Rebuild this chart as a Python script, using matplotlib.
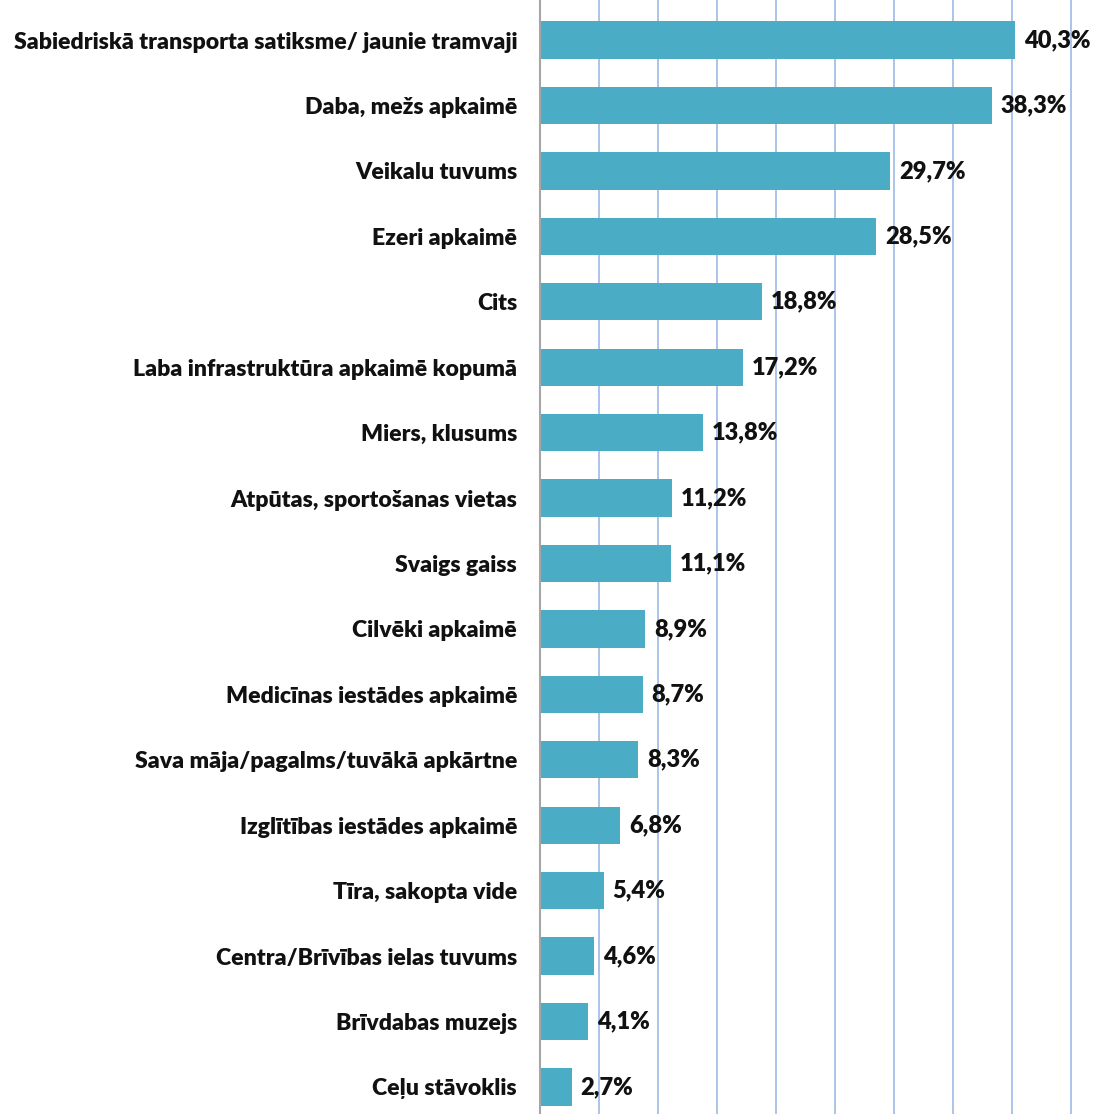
import matplotlib
matplotlib.use("Agg")
import matplotlib.pyplot as plt

categories = [
    "Sabiedriskā transporta satiksme/ jaunie tramvaji",
    "Daba, mežs apkaimē",
    "Veikalu tuvums",
    "Ezeri apkaimē",
    "Cits",
    "Laba infrastruktūra apkaimē kopumā",
    "Miers, klusums",
    "Atpūtas, sportošanas vietas",
    "Svaigs gaiss",
    "Cilvēki apkaimē",
    "Medicīnas iestādes apkaimē",
    "Sava māja/pagalms/tuvākā apkārtne",
    "Izglītības iestādes apkaimē",
    "Tīra, sakopta vide",
    "Centra/Brīvības ielas tuvums",
    "Brīvdabas muzejs",
    "Ceļu stāvoklis",
]
values = [40.3, 38.3, 29.7, 28.5, 18.8, 17.2, 13.8, 11.2, 11.1, 8.9, 8.7, 8.3, 6.8, 5.4, 4.6, 4.1, 2.7]
grid_ticks = [5, 10, 15, 20, 25, 30, 35, 40, 45]

plt.rcParams['font.family'] = ['Lato', 'DejaVu Sans']

fig = plt.figure(figsize=(10.98, 11.14), dpi=100)
ax = fig.add_axes([540/1098, 0, 1 - 540/1098, 1])

y = list(range(len(categories)))
ax.barh(y, values, height=0.57, color="#4BACC6", zorder=2)
ax.set_xlim(0, 47.3)
ax.set_ylim(16 + 27/65.4, -40/65.4)

ax.set_xticks(grid_ticks)
ax.xaxis.grid(True, color="#9DB9E8", linewidth=1.2, zorder=0)
ax.tick_params(axis='x', length=0, labelbottom=False)
ax.set_yticks(y)
ax.set_yticklabels(categories, fontsize=16.6, fontweight='heavy', color="#111111")
ax.tick_params(axis='y', length=0, pad=16.5)

for s in ['top', 'right', 'bottom']:
    ax.spines[s].set_visible(False)
ax.spines['left'].set_color("#a6a6a6")
ax.spines['left'].set_linewidth(1.5)

for yi, v in zip(y, values):
    ax.text(v + 0.75, yi, f"{v:.1f}%".replace('.', ','), va='center', ha='left',
            fontsize=17, fontweight='heavy', color="#111111", zorder=3)

fig.savefig("out.png", dpi=100)
